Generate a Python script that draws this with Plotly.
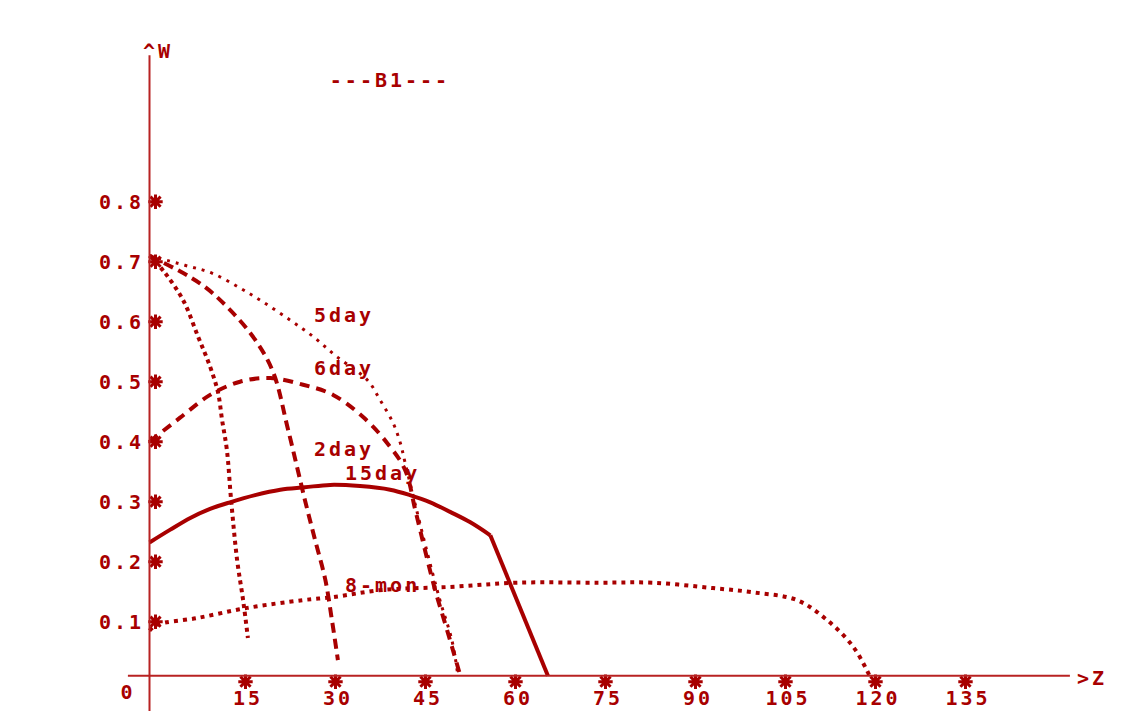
import plotly.graph_objects as go

# ---- data -------------------------------------------------------------
x_ticks = [15, 30, 45, 60, 75, 90, 105, 120, 135]
x_tick_labels = ["15", "30", "45", "60", "75", "90", "105", "120", "135"]
y_ticks = [0.1, 0.2, 0.3, 0.4, 0.5, 0.6, 0.7, 0.8]
y_tick_labels = ["0.1", "0.2", "0.3", "0.4", "0.5", "0.6", "0.7", "0.8"]

# steep dotted curve reaching down near z = 15
z_a = [0, 2.6, 5.6, 8.1, 10.1, 11.4, 12.1, 12.9, 13.6, 14.6, 15.6, 16.4]
w_a = [0.70, 0.671, 0.626, 0.565, 0.515, 0.473, 0.426, 0.376, 0.293,
       0.193, 0.126, 0.063]

# dashed curve reaching down near z = 30
z_b = [0, 8.4, 13.1, 17.6, 20.6, 23.1, 25.9, 27.6, 29.3, 30.4, 31.4]
w_b = [0.70, 0.654, 0.613, 0.56, 0.506, 0.41, 0.293, 0.226, 0.16, 0.093, 0.026]

# 5day
z_5day = [0, 5.9, 10.4, 15.1, 18.9, 23.4, 27.3, 31.3, 36.3, 38.4, 40.6, 41.8,
          42.6, 44.3, 46.4, 48.4, 50.4, 51.4]
w_5day = [0.70, 0.684, 0.671, 0.646, 0.623, 0.593, 0.565, 0.531, 0.493, 0.46,
          0.421, 0.388, 0.355, 0.285, 0.201, 0.126, 0.059, 0.0]

# 6day
z_6day = [0, 5.1, 10.1, 15.1, 20.1, 25.6, 30.6, 35.6, 39.6, 42.6, 44.3, 45.9,
          47.6, 49.6, 51.8]
w_6day = [0.39, 0.43, 0.468, 0.49, 0.496, 0.485, 0.468, 0.431, 0.388, 0.343,
          0.276, 0.21, 0.143, 0.076, 0.0]

# 15day
z_15day = [0, 3.4, 6.8, 10.1, 13.4, 17.6, 21.8, 25.9, 30.1, 35.1, 40.1, 43.4,
           46.8, 50.1, 53.4, 56.8, 66.4]
w_15day = [0.222, 0.243, 0.263, 0.278, 0.289, 0.301, 0.31, 0.314, 0.318, 0.316,
           0.31, 0.301, 0.289, 0.273, 0.256, 0.234, 0.0]

# 8-mon
z_8mon = [0, 1.3, 7.9, 16.3, 25.6, 30.6, 38.9, 50.1, 61.3, 75.1, 83.9, 93.9,
          100.6, 107.9, 112.9, 117.3, 120.0]
w_8mon = [0.075, 0.085, 0.096, 0.113, 0.126, 0.131, 0.143, 0.148, 0.155, 0.155,
          0.155, 0.146, 0.139, 0.126, 0.093, 0.048, 0.0]

curve_labels = ["5day", "6day", "2day", "15day", "8-mon"]
curve_label_z = [27.1, 27.1, 27.1, 32.3, 32.3]
curve_label_w = [0.601, 0.513, 0.378, 0.338, 0.151]

# ---- geometry ---------------------------------------------------------
W, H = 1146, 711
ORIGIN_X, ORIGIN_Y = 149.5, 675.7      # pixel position of (0, 0)
PX_PER_Z, PX_PER_W = 6.0, 600.0
CELL = 6.0                              # tick glyphs sit half a cell off the axes

x_range = [-ORIGIN_X / PX_PER_Z, (W - ORIGIN_X) / PX_PER_Z]
y_range = [-(H - ORIGIN_Y) / PX_PER_W, ORIGIN_Y / PX_PER_W]
x2_range = [v - CELL / PX_PER_Z for v in x_range]
y2_range = [v + CELL / PX_PER_W for v in y_range]

# axis line extents (data units)
Z_AXIS = [-3.6, 153.4]
W_AXIS = [y_range[0], 1.034]

RED = "#a80000"
AXIS_RED = "#b82222"
FONT = dict(family="DejaVu Sans Mono", size=20, color=RED, weight=700)

fig = go.Figure()

# axes
fig.add_shape(type="line", xref="x", yref="y", x0=Z_AXIS[0], x1=Z_AXIS[1], y0=0, y1=0,
              line=dict(color=AXIS_RED, width=2))
fig.add_shape(type="line", xref="x", yref="y", x0=0, x1=0, y0=W_AXIS[0], y1=W_AXIS[1],
              line=dict(color=AXIS_RED, width=2))

# curves
curves = [
    (z_a, w_a, "4px,4px", 4, "spline"),
    (z_b, w_b, "10px,6px", 4, "spline"),
    (z_5day, w_5day, "3px,6px", 3, "spline"),
    (z_6day, w_6day, "10px,7px", 4, "spline"),
    (z_15day[:-1], w_15day[:-1], "solid", 4, "spline"),   # rounded crest
    (z_15day[-2:], w_15day[-2:], "solid", 4, "linear"),   # straight drop to the axis
    (z_8mon, w_8mon, "4px,5px", 4, "spline"),
]
for zs, ws, dash, width, shape in curves:
    fig.add_trace(go.Scatter(x=zs, y=ws, mode="lines", line_shape=shape,
                             line=dict(color=RED, width=width, dash=dash),
                             hoverinfo="skip", showlegend=False))

# tick stars
star = dict(symbol="asterisk-open", size=12, color=RED, line=dict(color=RED, width=3))
fig.add_trace(go.Scatter(x=x_ticks, y=[0] * len(x_ticks), mode="markers",
                         xaxis="x2", yaxis="y2", marker=star,
                         hoverinfo="skip", showlegend=False))
fig.add_trace(go.Scatter(x=[0] * len(y_ticks), y=y_ticks, mode="markers",
                         xaxis="x2", yaxis="y2", marker=star,
                         hoverinfo="skip", showlegend=False))

annotations = []
for v, lab in zip(x_ticks, x_tick_labels):
    annotations.append(dict(x=v, y=0, xref="x2", yref="y2", text=lab, showarrow=False,
                            xanchor="center", yanchor="middle", yshift=-16, xshift=2,
                            font=FONT))
for v, lab in zip(y_ticks, y_tick_labels):
    annotations.append(dict(x=0, y=v, xref="x2", yref="y2", text=lab, showarrow=False,
                            xanchor="right", align="right", yanchor="middle",
                            xshift=-10, font=FONT))
for lab, z, w in zip(curve_labels, curve_label_z, curve_label_w):
    annotations.append(dict(x=z, y=w, xref="x", yref="y", text=lab, showarrow=False,
                            xanchor="left", align="left", yanchor="middle", font=FONT))

# origin and axis names
annotations.append(dict(x=0, y=0, xref="x", yref="y", text="0", showarrow=False,
                        xanchor="center", yanchor="middle", xshift=-22, yshift=-16, font=FONT))
annotations.append(dict(x=0, y=W_AXIS[1], xref="x", yref="y", text="^W", showarrow=False,
                        xanchor="left", align="left", yanchor="middle", xshift=-9, yshift=4,
                        font=FONT))
annotations.append(dict(x=Z_AXIS[1], y=0, xref="x", yref="y", text=">Z", showarrow=False,
                        xanchor="left", align="left", yanchor="middle", xshift=5, yshift=-2,
                        font=FONT))

fig.update_layout(
    width=W, height=H, autosize=False,
    margin=dict(l=0, r=0, t=0, b=0, pad=0),
    paper_bgcolor="white", plot_bgcolor="white",
    title=dict(text="---B1---", x=390 / W, y=1 - 80 / H, xanchor="center",
               yanchor="middle", xref="paper", yref="paper", font=FONT),
    xaxis=dict(range=x_range, visible=False, fixedrange=True),
    yaxis=dict(range=y_range, visible=False, fixedrange=True),
    xaxis2=dict(range=x2_range, visible=False, overlaying="x", fixedrange=True),
    yaxis2=dict(range=y2_range, visible=False, overlaying="y", fixedrange=True),
    annotations=annotations,
    showlegend=False,
)

# wide character cells for the blocky lettering
spacing_js = (
    "var gd = document.getElementById('{plot_id}');"
    "gd.querySelectorAll('text.annotation-text, text.gtitle').forEach(function (t) {"
    "  t.style.letterSpacing = '3px';"
    "});"
)

fig.write_html("out.html", post_script=spacing_js)
